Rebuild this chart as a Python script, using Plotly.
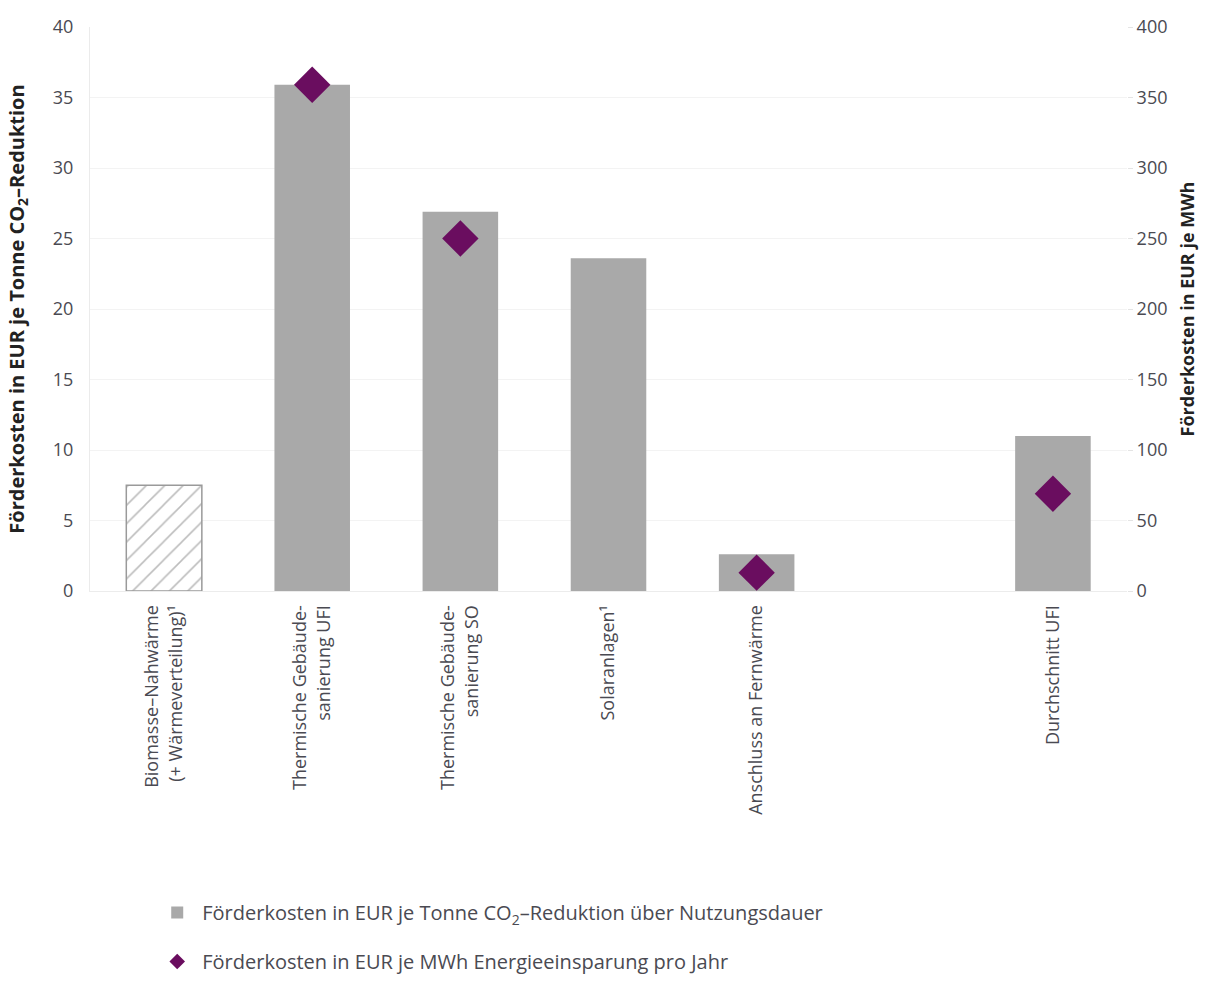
import plotly.graph_objects as go

categories = [
    "Biomasse–Nahwärme<br>(+ Wärmeverteilung)¹",
    "Thermische Gebäude-<br>sanierung UFI",
    "Thermische Gebäude-<br>sanierung SO",
    "Solaranlagen¹",
    "Anschluss an Fernwärme",
    " ",
    "Durchschnitt UFI",
]
hatched_cats = ["Biomasse–Nahwärme<br>(+ Wärmeverteilung)¹"]
hatched_vals = [7.5]
bar_cats = [
    "Thermische Gebäude-<br>sanierung UFI",
    "Thermische Gebäude-<br>sanierung SO",
    "Solaranlagen¹",
    "Anschluss an Fernwärme",
    "Durchschnitt UFI",
]
bar_vals = [35.9, 26.9, 23.6, 2.6, 11.0]
diamond_cats = [
    "Thermische Gebäude-<br>sanierung UFI",
    "Thermische Gebäude-<br>sanierung SO",
    "Anschluss an Fernwärme",
    "Durchschnitt UFI",
]
diamond_vals = [359, 250, 13, 69]

left_ticks = [0, 5, 10, 15, 20, 25, 30, 35, 40]
right_ticks = [0, 50, 100, 150, 200, 250, 300, 350, 400]

FONT = "Open Sans"
GRAY = "#a9a9a9"
PURPLE = "#6a0d5f"
TXT = "#4a4a52"

fig = go.Figure()
fig.add_trace(go.Bar(
    x=bar_cats, y=bar_vals, width=0.51,
    marker=dict(color=GRAY, line=dict(width=0)),
    name="Förderkosten in EUR je Tonne CO<sub>2</sub>–Reduktion über Nutzungsdauer",
    legendgroup="a",
))
fig.add_trace(go.Bar(
    x=hatched_cats, y=hatched_vals, width=0.51,
    marker=dict(color="white", line=dict(width=1.5, color="#9a9a9a"),
                pattern=dict(shape="/", fgcolor="#7a7a7a", bgcolor="white",
                             size=13, solidity=0.12)),
    showlegend=False,
))
fig.add_trace(go.Scatter(
    x=diamond_cats, y=diamond_vals, yaxis="y2", mode="markers",
    marker=dict(symbol="diamond", size=28, color=PURPLE),
    name="Förderkosten in EUR je MWh Energieeinsparung pro Jahr",
    legendgroup="b",
))

fig.update_layout(
    width=1206, height=981,
    margin=dict(l=90, r=79, t=27, b=390),
    paper_bgcolor="white", plot_bgcolor="white",
    barmode="overlay",
    font=dict(family=FONT, color=TXT, size=18),
    xaxis=dict(
        type="category", categoryorder="array", categoryarray=categories,
        range=[-0.5, len(categories) - 0.5],
        tickangle=-90, tickfont=dict(size=18, color=TXT),
        showgrid=False, showline=True, linecolor="#ececec", linewidth=1,
        ticks="", ticklabelstandoff=6,
    ),
    yaxis=dict(
        range=[0, 40], tickvals=left_ticks,
        showgrid=True, gridcolor="#f3f3f3", gridwidth=1,
        zeroline=False,
        showline=True, linecolor="#ebebeb", linewidth=1,
        ticks="", ticklabelstandoff=12,
        tickfont=dict(size=18, color=TXT),
        title=dict(text="<b>Förderkosten in EUR je Tonne CO<sub>2</sub>–Reduktion</b>",
                   font=dict(size=20, color="#222"), standoff=22),
    ),
    yaxis2=dict(
        range=[0, 400], tickvals=right_ticks, overlaying="y", side="right",
        showgrid=False, zeroline=False, showline=False,
        ticks="outside", ticklen=5, tickcolor="#e4e4e4",
        tickfont=dict(size=18, color=TXT),
        title=dict(text="<b>Förderkosten in EUR je MWh</b>",
                   font=dict(size=18, color="#222"), standoff=14),
    ),
    legend=dict(
        x=0.06, y=0.0, xanchor="left", yanchor="bottom", yref="container",
        traceorder="grouped", tracegroupgap=20,
        font=dict(size=20, color=TXT), bgcolor="rgba(0,0,0,0)",
        itemsizing="constant", itemwidth=40,
    ),
)

fig.write_html("out.html")
